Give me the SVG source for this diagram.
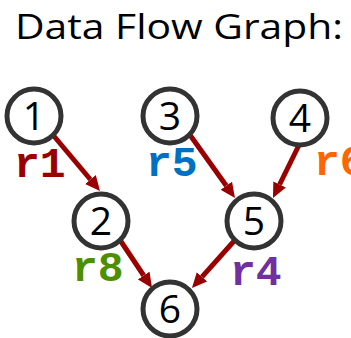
<svg xmlns="http://www.w3.org/2000/svg" width="351" height="338" viewBox="0 0 351 338">
<style>
.node circle{fill:#fff;stroke:#333;stroke-width:5}
.node text{font-family:"Open Sans","Liberation Sans",sans-serif;font-size:39px;fill:#000;text-anchor:middle}
.edge{stroke:#990000;stroke-width:5;fill:none;marker-end:url(#ah)}
.lbl{font-family:"Liberation Mono","Courier New",monospace;font-weight:bold;font-size:43px}
.title{font-family:"Open Sans","Liberation Sans",sans-serif;font-size:34px;fill:#000}
</style>
<defs>
<marker id="ah" markerUnits="userSpaceOnUse" markerWidth="15" markerHeight="14" viewBox="0 0 15 14" refX="0" refY="7" orient="auto">
<path d="M0,0 L15,7 L0,14 z" fill="#990000"/>
</marker>
</defs>
<rect width="351" height="338" fill="#fff"/>
<text class="title" x="15" y="39" textLength="328" lengthAdjust="spacingAndGlyphs">Data Flow Graph:</text>
<g id="connectors">
<line class="edge" x1="53" y1="135" x2="90.4" y2="179.5"/>
<line class="edge" x1="190" y1="135" x2="226.3" y2="185.8"/>
<line class="edge" x1="300" y1="143" x2="279.6" y2="184.5"/>
<line class="edge" x1="120" y1="240" x2="143.7" y2="275.5"/>
<line class="edge" x1="235" y1="240" x2="202" y2="276.8"/>
</g>
<g id="n1" class="node"><circle cx="34" cy="116" r="27"/><text x="34" y="130">1</text></g>
<g id="n3" class="node"><circle cx="170" cy="116" r="27"/><text x="170" y="130">3</text></g>
<g id="n4" class="node"><circle cx="300" cy="118" r="27"/><text x="300" y="132">4</text></g>
<g id="n2" class="node"><circle cx="101" cy="221" r="27"/><text x="101" y="235">2</text></g>
<g id="n5" class="node"><circle cx="254" cy="221" r="27"/><text x="254" y="235">5</text></g>
<g id="n6" class="node"><circle cx="170" cy="309" r="27"/><text x="170" y="323">6</text></g>
<g id="labels">
<text class="lbl" x="14" y="177" fill="#990000">r1</text>
<text class="lbl" x="146" y="176" fill="#0070C0">r5</text>
<text class="lbl" x="314" y="175" fill="#FF6600">r6</text>
<text class="lbl" x="72" y="281" fill="#4E8F00">r8</text>
<text class="lbl" x="230" y="285" fill="#7030A0">r4</text>
</g>
</svg>
